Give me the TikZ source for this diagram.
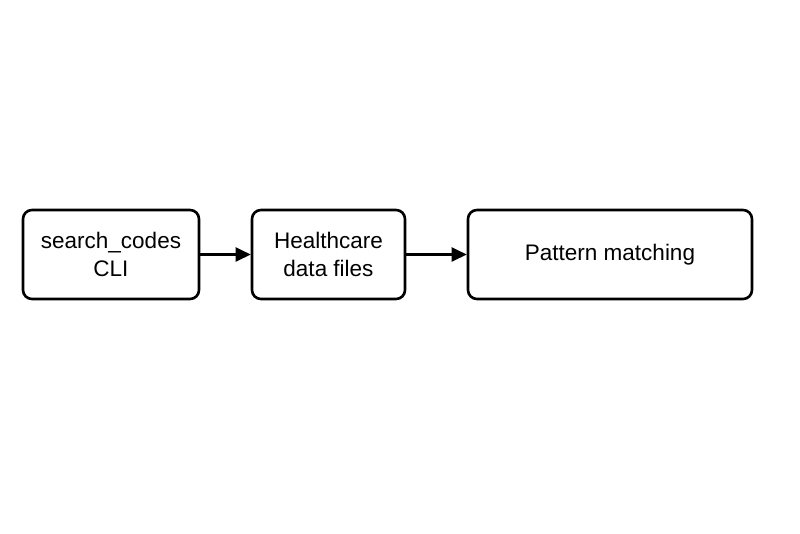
\documentclass[tikz,border=0pt]{standalone}
\usepackage{fontspec}
\setmainfont{Liberation Sans}
\usetikzlibrary{arrows.meta}
\begin{document}
\begin{tikzpicture}[x=1pt,y=-1pt,
  box/.style={draw=black,line width=2.6pt,rounded corners=9pt,fill=white,
    align=center,inner sep=0pt,font=\fontsize{22.5}{28}\selectfont},
  conn/.style={line width=2.4pt,-{Triangle[length=15pt,width=14pt]}}]
\useasboundingbox[fill=white] (0,0) rectangle (800,533);
\node[box,minimum width=176pt,minimum height=89pt] (cli) at (111,254.5) {search\_codes\\CLI};
\node[box,minimum width=153pt,minimum height=89pt] (data) at (328.5,254.5) {Healthcare\\data files};
\node[box,minimum width=284pt,minimum height=89pt] (pm) at (610,254.5) {Pattern matching};
\draw[conn] (cli) -- (data);
\draw[conn] (data) -- (pm);
\end{tikzpicture}
\end{document}
